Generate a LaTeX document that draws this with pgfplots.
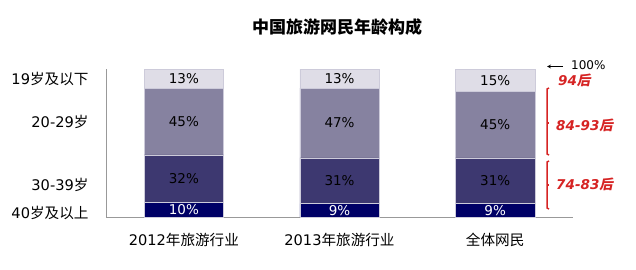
\documentclass[border=0pt]{standalone}
\usepackage{fontspec}
\setmainfont{DejaVu Sans}
\newfontfamily\cjkfont{Noto Sans CJK SC}
\newfontfamily\redfont{Noto Sans CJK SC}[FakeSlant=0.2]
\usepackage{pgfplots}
\pgfplotsset{compat=1.18}
\definecolor{cA}{RGB}{0,0,102}
\definecolor{cB}{RGB}{61,56,112}
\definecolor{cC}{RGB}{134,130,160}
\definecolor{cD}{RGB}{223,221,231}
\definecolor{barline}{RGB}{205,203,218}
\definecolor{redc}{RGB}{214,36,36}
\tikzset{lab/.style={font=\fontsize{13.5}{15}\selectfont}}
\begin{document}
\begin{tikzpicture}
\path[use as bounding box] (0pt,0pt) rectangle (636pt,269pt);
\begin{axis}[
  at={(106pt,52pt)}, anchor=south west,
  scale only axis, width=467pt, height=148pt,
  xmin=-0.5, xmax=2.5, ymin=0, ymax=100,
  axis x line*=bottom, axis y line*=left,
  axis line style={draw=gray!80, line width=0.8pt},
  ybar stacked, bar width=0.51,
  xtick={0,1,2},
  xticklabels={2012{\cjkfont 年旅游行业},2013{\cjkfont 年旅游行业},{\cjkfont 全体网民}},
  ytick={3,22,64,93},
  yticklabels={40{\cjkfont 岁及以上},30-39{\cjkfont 岁},20-29{\cjkfont 岁},19{\cjkfont 岁及以下}},
  major tick length=0pt,
  ticklabel style={font=\fontsize{14.6}{17}\selectfont},
  yticklabel style={xshift=-14pt},
  xticklabel style={yshift=-13pt},
  clip=false,
]
\addplot[fill=cA, draw=barline, line width=0.6pt] coordinates {(0,10) (1,9) (2,9)};
\addplot[fill=cB, draw=barline, line width=0.6pt] coordinates {(0,32) (1,31) (2,31)};
\addplot[fill=cC, draw=barline, line width=0.6pt] coordinates {(0,45) (1,47) (2,45)};
\addplot[fill=cD, draw=barline, line width=0.6pt] coordinates {(0,13) (1,13) (2,15)};
\coordinate (a0) at (axis cs:0,5);
\coordinate (a1) at (axis cs:1,4.5);
\coordinate (a2) at (axis cs:2,4.5);
\coordinate (b0) at (axis cs:0,26);
\coordinate (b1) at (axis cs:1,24.5);
\coordinate (b2) at (axis cs:2,24.5);
\coordinate (c0) at (axis cs:0,64.5);
\coordinate (c1) at (axis cs:1,63.5);
\coordinate (c2) at (axis cs:2,62.5);
\coordinate (d0) at (axis cs:0,93.5);
\coordinate (d1) at (axis cs:1,93.5);
\coordinate (d2) at (axis cs:2,92.5);
\end{axis}
\node[lab,text=white] at (a0) {10\%};
\node[lab,text=white] at (a1) {9\%};
\node[lab,text=white] at (a2) {9\%};
\node[lab] at (b0) {32\%};
\node[lab] at (b1) {31\%};
\node[lab] at (b2) {31\%};
\node[lab] at (c0) {45\%};
\node[lab] at (c1) {47\%};
\node[lab] at (c2) {45\%};
\node[lab] at (d0) {13\%};
\node[lab] at (d1) {13\%};
\node[lab] at (d2) {15\%};
\node[font=\fontsize{17}{19}\selectfont] at (337pt,242pt) {\cjkfont\bfseries 中国旅游网民年龄构成};
\draw[-stealth, line width=0.8pt] (563pt,202.5pt) -- (547pt,202.5pt);
\node[anchor=west, inner sep=0pt, font=\fontsize{12}{14}\selectfont] at (571pt,203.5pt) {100\%};
\draw[redc, line width=1.5pt] (549pt,181pt) -- (547pt,180pt) -- (547pt,115pt) -- (549pt,114pt);
\draw[redc, line width=1.5pt] (547pt,146pt) -- (549pt,146pt);
\draw[redc, line width=1.5pt] (549pt,108pt) -- (547pt,107pt) -- (547pt,61pt) -- (549pt,60pt);
\draw[redc, line width=1.5pt] (547pt,84pt) -- (549pt,84pt);
\node[anchor=west, inner sep=0pt, text=redc, font=\fontsize{13.5}{15}\selectfont] at (558pt,189pt) {\textbf{\textit{94}}{\redfont\bfseries 后}};
\node[anchor=west, inner sep=0pt, text=redc, font=\fontsize{13.5}{15}\selectfont] at (556pt,144pt) {\textbf{\textit{84-93}}{\redfont\bfseries 后}};
\node[anchor=west, inner sep=0pt, text=redc, font=\fontsize{13.5}{15}\selectfont] at (556pt,85pt) {\textbf{\textit{74-83}}{\redfont\bfseries 后}};
\end{tikzpicture}
\end{document}
